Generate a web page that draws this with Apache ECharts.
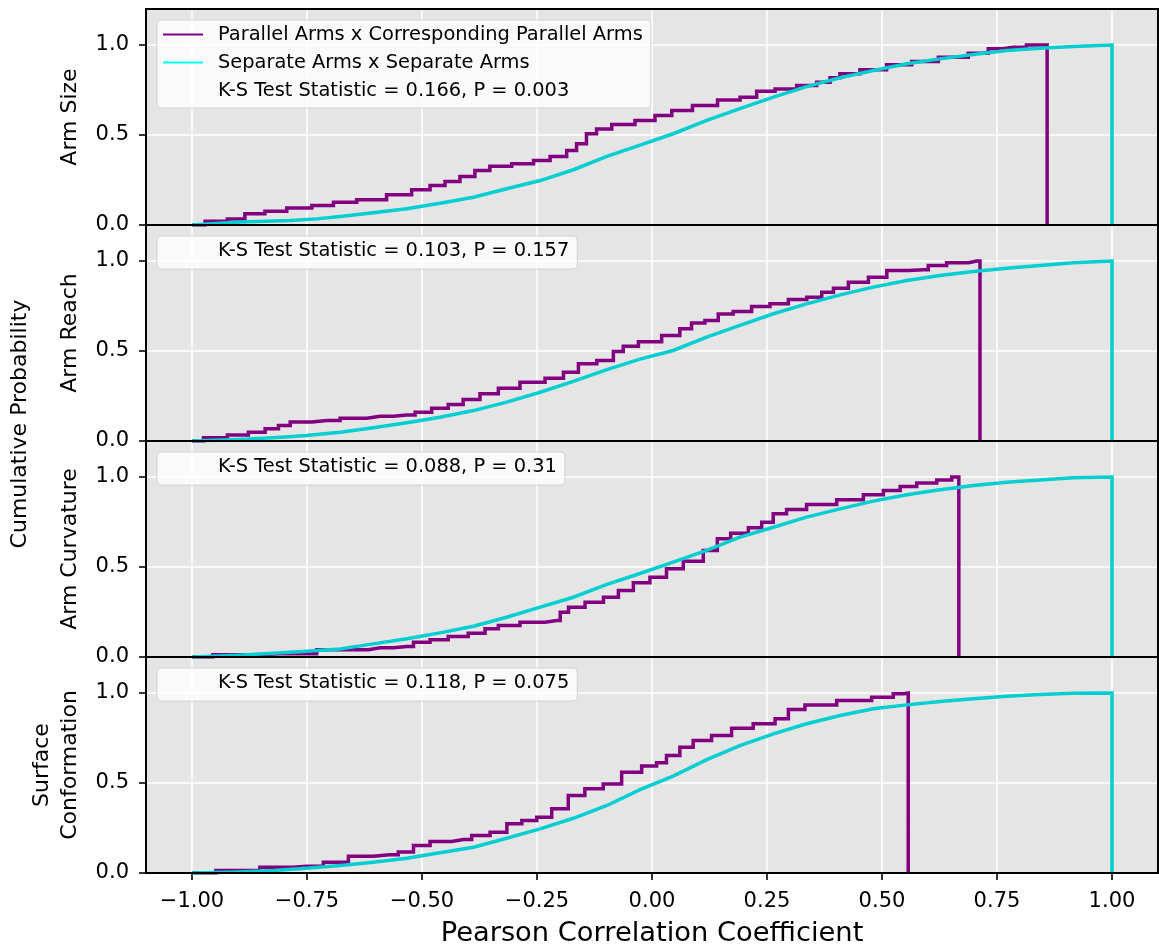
<!DOCTYPE html>
<html>
<head>
<meta charset="utf-8">
<script src="https://cdn.jsdelivr.net/npm/echarts@6/dist/echarts.min.js"></script>
<style>
html,body{margin:0;padding:0;background:#fff;}
#chart{width:1159px;height:952px;}
</style>
</head>
<body>
<div id="chart"></div>
<script>
// ---------------- data ----------------
const xTicks = [-1.0, -0.75, -0.5, -0.25, 0.0, 0.25, 0.5, 0.75, 1.0];
const yTicks = [0.0, 0.5, 1.0];
const panelLabels = ['Arm Size', 'Arm Reach', 'Arm Curvature', 'Surface\nConformation'];
const seriesNames = ['Parallel Arms x Corresponding Parallel Arms', 'Separate Arms x Separate Arms'];
const ksLabels = [
  'K-S Test Statistic = 0.166, P = 0.003',
  'K-S Test Statistic = 0.103, P = 0.157',
  'K-S Test Statistic = 0.088, P = 0.31',
  'K-S Test Statistic = 0.118, P = 0.075'
];
const xTitle = 'Pearson Correlation Coefficient';
const yTitle = 'Cumulative Probability';

// Arm Size
const armSizeParallel = [[-1.0,0],[-0.943,0.021],[-0.903,0.034],[-0.867,0.062],[-0.816,0.077],[-0.772,0.095],[-0.707,0.108],[-0.678,0.127],[-0.606,0.14],[-0.548,0.168],[-0.497,0.196],[-0.468,0.219],[-0.432,0.242],[-0.403,0.269],[-0.367,0.303],[-0.338,0.327],[-0.272,0.34],[-0.243,0.358],[-0.2,0.38],[-0.171,0.414],[-0.157,0.451],[-0.128,0.507],[-0.113,0.534],[-0.062,0.558],[-0.012,0.58],[0.025,0.608],[0.061,0.636],[0.115,0.664],[0.17,0.695],[0.213,0.71],[0.242,0.743],[0.293,0.756],[0.336,0.775],[0.38,0.793],[0.394,0.818],[0.423,0.84],[0.481,0.862],[0.539,0.89],[0.59,0.908],[0.655,0.932],[0.72,0.954],[0.742,0.979],[0.785,0.988],[0.843,1.0],[0.859,1.0],[0.859,0]];
const armSizeSeparate = [[-1.0,0],[-0.896,0.016],[-0.787,0.025],[-0.729,0.034],[-0.678,0.047],[-0.606,0.068],[-0.533,0.09],[-0.461,0.121],[-0.388,0.154],[-0.316,0.201],[-0.243,0.247],[-0.171,0.307],[-0.098,0.381],[-0.026,0.444],[0.046,0.507],[0.119,0.581],[0.191,0.646],[0.264,0.71],[0.336,0.769],[0.409,0.818],[0.481,0.858],[0.554,0.896],[0.626,0.923],[0.699,0.947],[0.771,0.969],[0.843,0.982],[0.916,0.992],[1.0,1.0],[1.0,0]];
// Arm Reach
const armReachParallel = [[-1.0,0],[-0.95,0.018],[-0.896,0.034],[-0.859,0.049],[-0.823,0.068],[-0.801,0.086],[-0.772,0.105],[-0.707,0.114],[-0.649,0.127],[-0.591,0.138],[-0.533,0.145],[-0.497,0.16],[-0.461,0.182],[-0.425,0.203],[-0.396,0.231],[-0.352,0.262],[-0.316,0.293],[-0.258,0.327],[-0.207,0.349],[-0.178,0.382],[-0.142,0.429],[-0.098,0.447],[-0.07,0.497],[-0.055,0.527],[-0.004,0.552],[0.046,0.586],[0.075,0.623],[0.097,0.656],[0.133,0.669],[0.155,0.706],[0.198,0.719],[0.235,0.747],[0.278,0.762],[0.315,0.786],[0.358,0.799],[0.38,0.827],[0.409,0.849],[0.445,0.882],[0.496,0.91],[0.525,0.947],[0.59,0.951],[0.611,0.975],[0.67,0.99],[0.706,1.0],[0.713,1.0],[0.713,0]];
const armReachSeparate = [[-1.0,0],[-0.9,0.008],[-0.823,0.018],[-0.751,0.031],[-0.678,0.049],[-0.606,0.073],[-0.533,0.101],[-0.461,0.132],[-0.388,0.169],[-0.316,0.216],[-0.243,0.271],[-0.171,0.331],[-0.098,0.397],[-0.026,0.455],[0.046,0.503],[0.119,0.577],[0.191,0.642],[0.264,0.707],[0.336,0.762],[0.409,0.812],[0.481,0.855],[0.554,0.892],[0.626,0.919],[0.699,0.942],[0.771,0.96],[0.843,0.975],[0.916,0.99],[1.0,1.0],[1.0,0]];
// Arm Curvature
const armCurvParallel = [[-1.0,0],[-0.91,0.012],[-0.809,0.018],[-0.751,0.018],[-0.707,0.04],[-0.642,0.04],[-0.591,0.051],[-0.533,0.058],[-0.504,0.082],[-0.461,0.096],[-0.425,0.114],[-0.374,0.132],[-0.352,0.157],[-0.316,0.175],[-0.258,0.193],[-0.207,0.203],[-0.192,0.249],[-0.171,0.277],[-0.12,0.304],[-0.091,0.332],[-0.055,0.369],[-0.026,0.413],[0.017,0.443],[0.046,0.49],[0.09,0.532],[0.133,0.592],[0.151,0.657],[0.191,0.688],[0.228,0.718],[0.249,0.749],[0.278,0.796],[0.307,0.819],[0.365,0.847],[0.438,0.873],[0.481,0.901],[0.525,0.925],[0.554,0.947],[0.597,0.966],[0.641,0.984],[0.662,1.0],[0.667,1.0],[0.667,0]];
const armCurvSeparate = [[-1.0,0],[-0.9,0.01],[-0.823,0.021],[-0.751,0.032],[-0.678,0.045],[-0.606,0.073],[-0.533,0.101],[-0.461,0.134],[-0.388,0.171],[-0.316,0.221],[-0.243,0.277],[-0.171,0.332],[-0.098,0.403],[-0.026,0.464],[0.046,0.527],[0.119,0.592],[0.191,0.666],[0.264,0.721],[0.336,0.777],[0.409,0.823],[0.481,0.866],[0.554,0.901],[0.626,0.929],[0.699,0.953],[0.771,0.971],[0.843,0.984],[0.916,0.996],[1.0,1.0],[1.0,0]];
// Surface Conformation
const surfConfParallel = [[-1.0,0],[-0.896,0.014],[-0.809,0.032],[-0.751,0.038],[-0.678,0.06],[-0.642,0.093],[-0.57,0.101],[-0.533,0.116],[-0.504,0.153],[-0.461,0.175],[-0.41,0.186],[-0.374,0.208],[-0.33,0.227],[-0.301,0.273],[-0.265,0.292],[-0.236,0.31],[-0.2,0.357],[-0.164,0.431],[-0.128,0.468],[-0.084,0.495],[-0.048,0.56],[0.003,0.595],[0.017,0.612],[0.046,0.653],[0.075,0.699],[0.104,0.736],[0.155,0.764],[0.191,0.804],[0.249,0.829],[0.286,0.857],[0.307,0.908],[0.358,0.934],[0.445,0.958],[0.51,0.977],[0.539,0.996],[0.557,1.0],[0.557,0]];
const surfConfSeparate = [[-1.0,0],[-0.9,0.006],[-0.823,0.014],[-0.751,0.027],[-0.678,0.042],[-0.606,0.06],[-0.533,0.082],[-0.461,0.112],[-0.388,0.143],[-0.316,0.193],[-0.243,0.245],[-0.171,0.304],[-0.098,0.375],[-0.026,0.463],[0.046,0.538],[0.119,0.63],[0.191,0.708],[0.264,0.773],[0.336,0.829],[0.409,0.875],[0.481,0.912],[0.554,0.934],[0.626,0.953],[0.699,0.968],[0.771,0.982],[0.843,0.992],[0.916,0.999],[1.0,1.0],[1.0,0]];

const parallelData = [armSizeParallel, armReachParallel, armCurvParallel, surfConfParallel];
const separateData = [armSizeSeparate, armReachSeparate, armCurvSeparate, surfConfSeparate];

// ---------------- layout / style ----------------
const FONT = '"DejaVu Sans", "Liberation Sans", sans-serif';
const PURPLE = '#800080';
const TURQ = '#00CED1';
const LEG_CYAN = '#00FFFF';
const GL = 146, GW = 1012, GT = 9, GH = 216;
const LEG_FS = 19.4;

const measureCtx = document.createElement('canvas').getContext('2d');
function textW(t, size) { measureCtx.font = size + 'px ' + FONT; return measureCtx.measureText(t).width; }

const fmtX = v => (v < 0 ? '\u2212' : '') + Math.abs(v).toFixed(2);
const fmtY = v => v.toFixed(1);

const grids = [], xAxes = [], yAxes = [], series = [], graphics = [];
for (let i = 0; i < 4; i++) {
  const top = GT + GH * i;
  const last = i === 3;
  grids.push({ left: GL, top: top, width: GW, height: GH, show: true, backgroundColor: '#E5E5E5', borderWidth: 0 });
  xAxes.push({
    gridIndex: i, type: 'value', min: -1.1, max: 1.1, position: 'bottom',
    axisLine: { show: false, onZero: false },
    axisTick: { show: last, customValues: xTicks, length: 7, lineStyle: { color: '#000', width: 1.6 } },
    axisLabel: { show: last, customValues: xTicks, formatter: fmtX, fontSize: 21, color: '#000', fontFamily: FONT, margin: 18 },
    splitLine: { show: true, lineStyle: { color: '#ffffff', width: 1.5 } },
    name: last ? xTitle : '', nameLocation: 'middle', nameGap: 47,
    nameTextStyle: { fontSize: 27.3, color: '#000', fontFamily: FONT }
  });
  yAxes.push({
    gridIndex: i, type: 'value', min: 0, max: 1.2, position: 'left',
    axisLine: { show: false, onZero: false },
    axisTick: { show: true, customValues: yTicks, length: 7, lineStyle: { color: '#000', width: 1.6 } },
    axisLabel: { customValues: yTicks, formatter: fmtY, fontSize: 21, color: '#000', fontFamily: FONT, margin: 17 },
    splitLine: { show: true, lineStyle: { color: '#ffffff', width: 1.5 } },
    name: panelLabels[i], nameLocation: 'middle', nameRotate: 90, nameGap: 58,
    nameTextStyle: { fontSize: 22, color: '#000', fontFamily: FONT, lineHeight: 28 }
  });
  series.push({
    name: seriesNames[0], type: 'line', xAxisIndex: i, yAxisIndex: i,
    data: parallelData[i], step: 'middle', showSymbol: false, symbol: 'none',
    lineStyle: { color: PURPLE, width: 3.5, join: 'miter' }, z: 2, animation: false
  });
  series.push({
    name: seriesNames[1], type: 'line', xAxisIndex: i, yAxisIndex: i,
    data: separateData[i], showSymbol: false, symbol: 'none',
    lineStyle: { color: TURQ, width: 3.5, join: 'miter' }, z: 3, animation: false
  });
  // frame
  graphics.push({ type: 'rect', z: 50, silent: true,
    shape: { x: GL, y: top, width: GW, height: GH },
    style: { fill: null, stroke: '#000', lineWidth: 2 } });
  // legend box
  const rows = i === 0 ? [seriesNames[0], seriesNames[1], ksLabels[0]] : [ksLabels[i]];
  const rowH = 28;
  const tx = 218;
  let maxW = 0; rows.forEach(r => { maxW = Math.max(maxW, textW(r, LEG_FS)); });
  const bx = 157, by = top + 11;
  const bh = rows.length === 3 ? 88 : 33;
  graphics.push({ type: 'rect', z: 60, silent: true,
    shape: { x: bx, y: by, width: tx + maxW + 8 - bx, height: bh, r: 4 },
    style: { fill: 'rgba(255,255,255,0.8)', stroke: 'rgba(204,204,204,0.8)', lineWidth: 1 } });
  rows.forEach((r, k) => {
    const cy = top + 25.5 + k * rowH;
    if (i === 0 && k < 2) {
      graphics.push({ type: 'line', z: 61, silent: true,
        shape: { x1: 163, y1: cy, x2: 203, y2: cy },
        style: { stroke: k === 0 ? PURPLE : LEG_CYAN, lineWidth: 2 } });
    }
    graphics.push({ type: 'text', z: 61, silent: true,
      style: { text: r, x: tx, y: cy, font: LEG_FS + 'px ' + FONT, fill: '#000', textAlign: 'left', textVerticalAlign: 'middle' } });
  });
}
graphics.push({ type: 'text', z: 61, silent: true, x: 20, y: 424, rotation: Math.PI / 2,
  style: { text: yTitle, x: 0, y: 0, font: '22px ' + FONT, fill: '#000', textAlign: 'center', textVerticalAlign: 'middle' } });

const chart = echarts.init(document.getElementById('chart'), null, { renderer: 'canvas' });
chart.setOption({
  animation: false,
  backgroundColor: '#ffffff',
  grid: grids, xAxis: xAxes, yAxis: yAxes, series: series, graphic: graphics
});
</script>
</body>
</html>
